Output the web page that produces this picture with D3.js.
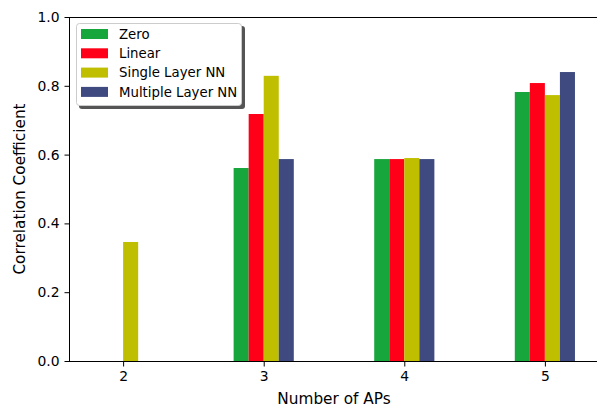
<!DOCTYPE html>
<html><head><meta charset="utf-8">
<script src="https://cdn.jsdelivr.net/npm/d3@7"></script>
<style>body{margin:0;background:#fff}svg{display:block}text{font-family:"DejaVu Sans",sans-serif;fill:#000}</style>
</head><body>
<script>
const categories = [2, 3, 4, 5];
const seriesNames = ["Zero", "Linear", "Single Layer NN", "Multiple Layer NN"];
const seriesColors = ["#16a63b", "#ff0018", "#bfbf00", "#3e4a80"];
const zeroVals = [0, 0.561, 0.587, 0.782];
const linearVals = [0, 0.718, 0.587, 0.808];
const singleVals = [0.346, 0.829, 0.590, 0.773];
const multiVals = [0, 0.587, 0.587, 0.840];
const yTicks = [0, 0.2, 0.4, 0.6, 0.8, 1.0];
const seriesValues = [zeroVals, linearVals, singleVals, multiVals];
const barOffsets = [-2, -1, 0, 1];
const barW = 0.107;

const W = 597, H = 408;
const svg = d3.select("body").append("svg").attr("width", W).attr("height", H);
const L = 69, R = 599, T = 17, B = 361;
const x = d3.scaleLinear().domain([1.615, 5.385]).range([L, R]);
const y = d3.scaleLinear().domain([0, 1]).range([B, T]);

// bars
seriesValues.forEach((vals, si) => {
  svg.append("g").selectAll("rect").data(categories.map((c, i) => ({c, v: vals[i]})))
    .enter().append("rect")
    .attr("x", d => x(d.c + barOffsets[si] * barW))
    .attr("width", d => x(d.c + barW) - x(d.c))
    .attr("y", d => y(d.v))
    .attr("height", d => y(0) - y(d.v))
    .attr("fill", seriesColors[si]);
});

// axes
const tickFs = "13.9px", labelFs = "15.3px", legendFs = "13.3px";
const yAxis = d3.axisLeft(y).tickValues(yTicks).tickFormat(d3.format(".1f")).tickSize(5).tickPadding(5);
const gy = svg.append("g").attr("transform", `translate(${L + 0.5},0)`).call(yAxis);
const xAxis = d3.axisBottom(x).tickValues(categories).tickFormat(d3.format("d")).tickSize(5).tickPadding(5);
const gx = svg.append("g").attr("transform", `translate(0,${B + 0.5})`).call(xAxis);
[gx, gy].forEach(g => {
  g.select(".domain").remove();
  g.selectAll("text").style("font-size", tickFs).style("font-family", "DejaVu Sans").attr("fill", "#000");
  g.selectAll("line").attr("stroke", "#000");
});
// spines
svg.append("rect").attr("x", L + 0.5).attr("y", T + 0.5).attr("width", R - L).attr("height", B - T)
  .attr("fill", "none").attr("stroke", "#000").attr("stroke-width", 1);

// labels
svg.append("text").attr("x", (L + R) / 2).attr("y", 404).attr("text-anchor", "middle")
  .style("font-size", labelFs).text("Number of APs");
svg.append("text").attr("transform", `translate(25,${(T + B) / 2}) rotate(-90)`).attr("text-anchor", "middle")
  .style("font-size", labelFs).text("Correlation Coefficient");

// legend
const lg = svg.append("g");
lg.append("rect").attr("x", 79).attr("y", 26).attr("width", 166).attr("height", 83).attr("rx", 3)
  .attr("fill", "#555");
lg.append("rect").attr("x", 76.5).attr("y", 23.5).attr("width", 165).attr("height", 82).attr("rx", 3)
  .attr("fill", "#fff").attr("stroke", "#ccc");
seriesNames.forEach((n, i) => {
  const cy = 34 + i * 19.3;
  lg.append("rect").attr("x", 81).attr("y", cy - 5).attr("width", 27).attr("height", 10).attr("fill", seriesColors[i]);
  lg.append("text").attr("x", 119).attr("y", cy + 4.7).style("font-size", legendFs).text(n);
});
</script>
</body></html>
